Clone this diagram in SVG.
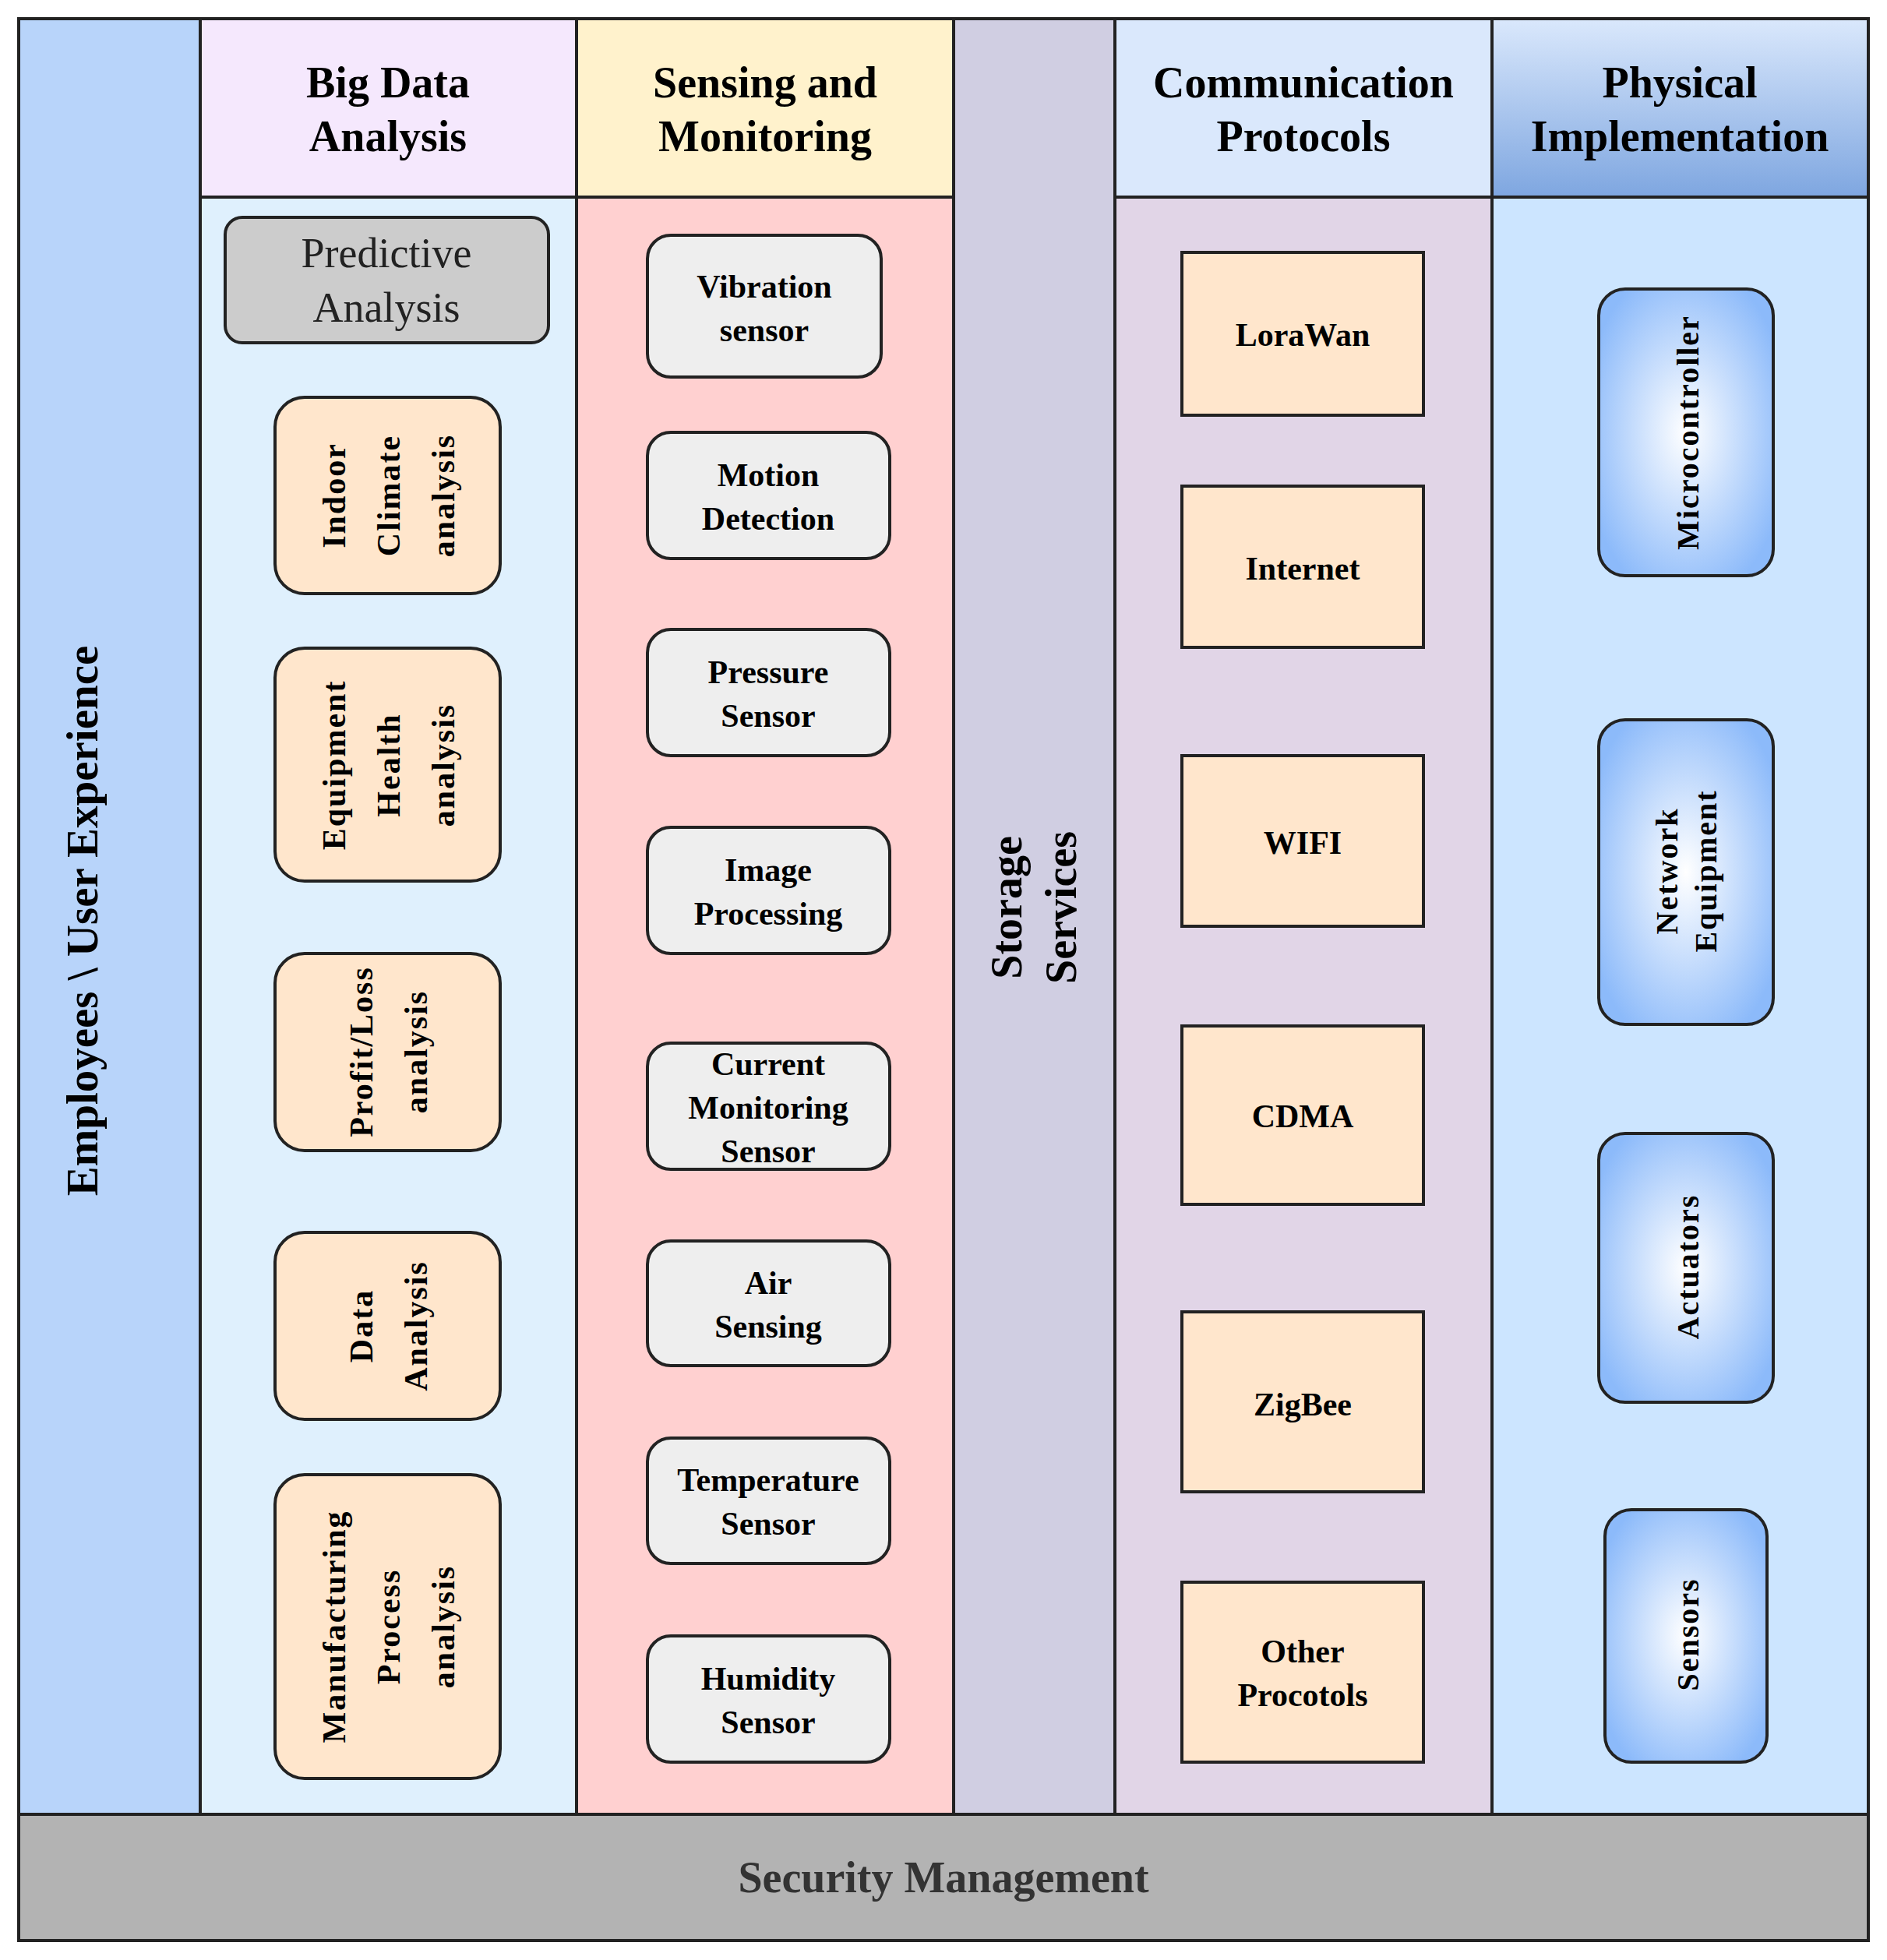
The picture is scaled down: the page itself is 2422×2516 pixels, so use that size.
<svg xmlns="http://www.w3.org/2000/svg" width="2422" height="2516" viewBox="0 0 2422 2516">
<defs>
<linearGradient id="hdr" x1="0" y1="0" x2="0" y2="1"><stop offset="0" stop-color="#dae8fc"/><stop offset="1" stop-color="#7ea6e0"/></linearGradient>
<radialGradient id="phy" cx="0.5" cy="0.5" r="0.6"><stop offset="0" stop-color="#ffffff"/><stop offset="1" stop-color="#8cbafa"/></radialGradient>
<style>
text{font-family:"Liberation Serif","Times New Roman",serif;fill:#000;text-anchor:middle;dominant-baseline:central}
.b{font-weight:bold}
.h{font-size:56px;font-weight:bold}
.n{font-size:42px;font-weight:bold}
.v{font-size:42px;font-weight:bold;letter-spacing:2px}
.ln{stroke:#222;stroke-width:4}
.nd{stroke:#222;stroke-width:4}
</style>
</defs>
<rect width="2422" height="2516" fill="#fff"/>
<g id="columns">
<rect x="24" y="24" width="233" height="2305" fill="#b8d4fa" class="ln"/>
<rect x="257" y="24" width="483" height="229" fill="#f5e8fd" class="ln"/>
<rect x="257" y="253" width="483" height="2076" fill="#dff0fd" class="ln"/>
<rect x="740" y="24" width="484" height="229" fill="#fff2cc" class="ln"/>
<rect x="740" y="253" width="484" height="2076" fill="#ffd0d0" class="ln"/>
<rect x="1224" y="24" width="207" height="2305" fill="#d0cee2" class="ln"/>
<rect x="1431" y="24" width="484" height="229" fill="#dae8fc" class="ln"/>
<rect x="1431" y="253" width="484" height="2076" fill="#e1d5e7" class="ln"/>
<rect x="1915" y="24" width="483" height="229" fill="url(#hdr)" class="ln"/>
<rect x="1915" y="253" width="483" height="2076" fill="#cce5ff" class="ln"/>
<rect x="24" y="2329" width="2374" height="162" fill="#b3b3b3" class="ln"/>
<text class="h" transform="translate(105,1182) rotate(-90)" style="font-size:57px">Employees \ User Experience</text>
<text class="h"><tspan x="498" y="106">Big Data</tspan><tspan x="498" y="175">Analysis</tspan></text>
<text class="h"><tspan x="982" y="106">Sensing and</tspan><tspan x="982" y="175">Monitoring</tspan></text>
<text class="h" transform="translate(1327,1165) rotate(-90)"><tspan x="0" y="-35">Storage</tspan><tspan x="0" y="35">Services</tspan></text>
<text class="h"><tspan x="1673" y="106">Communication</tspan><tspan x="1673" y="175">Protocols</tspan></text>
<text class="h"><tspan x="2156" y="106">Physical</tspan><tspan x="2156" y="175">Implementation</tspan></text>
<text class="h" x="1211" y="2410" style="fill:#333">Security Management</text>
</g>
<g id="bigdata">
<g id="predictive"><rect x="289" y="279" width="415" height="161" rx="22" fill="#cccccc" class="nd"/><text style="font-size:54px;fill:#222"><tspan x="496" y="325">Predictive</tspan><tspan x="496" y="395">Analysis</tspan></text></g>
<g id="indoor"><rect x="353" y="510" width="289" height="252" rx="38" fill="#ffe6cc" class="nd"/><text class="v" transform="translate(497,636) rotate(-90)"><tspan x="0" y="-68">Indoor</tspan><tspan x="0" y="2">Climate</tspan><tspan x="0" y="72">analysis</tspan></text></g>
<g id="equipment"><rect x="353" y="832" width="289" height="299" rx="38" fill="#ffe6cc" class="nd"/><text class="v" transform="translate(497,982) rotate(-90)"><tspan x="0" y="-68">Equipment</tspan><tspan x="0" y="2">Health</tspan><tspan x="0" y="72">analysis</tspan></text></g>
<g id="profit"><rect x="353" y="1224" width="289" height="253" rx="38" fill="#ffe6cc" class="nd"/><text class="v" transform="translate(497,1350) rotate(-90)"><tspan x="0" y="-33">Profit/Loss</tspan><tspan x="0" y="37">analysis</tspan></text></g>
<g id="data"><rect x="353" y="1582" width="289" height="240" rx="38" fill="#ffe6cc" class="nd"/><text class="v" transform="translate(497,1702) rotate(-90)"><tspan x="0" y="-33">Data</tspan><tspan x="0" y="37">Analysis</tspan></text></g>
<g id="manufacturing"><rect x="353" y="1893" width="289" height="390" rx="38" fill="#ffe6cc" class="nd"/><text class="v" transform="translate(497,2088) rotate(-90)"><tspan x="0" y="-68">Manufacturing</tspan><tspan x="0" y="2">Process</tspan><tspan x="0" y="72">analysis</tspan></text></g>
</g>
<g id="sensing">
<g id="vibration"><rect x="831" y="302" width="300" height="182" rx="30" fill="#eeeeee" class="nd"/><text class="n"><tspan x="981" y="368">Vibration</tspan><tspan x="981" y="424">sensor</tspan></text></g>
<g id="motion"><rect x="831" y="555" width="311" height="162" rx="30" fill="#eeeeee" class="nd"/><text class="n"><tspan x="986" y="610">Motion</tspan><tspan x="986" y="666">Detection</tspan></text></g>
<g id="pressure"><rect x="831" y="808" width="311" height="162" rx="30" fill="#eeeeee" class="nd"/><text class="n"><tspan x="986" y="863">Pressure</tspan><tspan x="986" y="919">Sensor</tspan></text></g>
<g id="image"><rect x="831" y="1062" width="311" height="162" rx="30" fill="#eeeeee" class="nd"/><text class="n"><tspan x="986" y="1117">Image</tspan><tspan x="986" y="1173">Processing</tspan></text></g>
<g id="current"><rect x="831" y="1339" width="311" height="162" rx="30" fill="#eeeeee" class="nd"/><text class="n"><tspan x="986" y="1366">Current</tspan><tspan x="986" y="1422">Monitoring</tspan><tspan x="986" y="1478">Sensor</tspan></text></g>
<g id="air"><rect x="831" y="1593" width="311" height="160" rx="30" fill="#eeeeee" class="nd"/><text class="n"><tspan x="986" y="1647">Air</tspan><tspan x="986" y="1703">Sensing</tspan></text></g>
<g id="temperature"><rect x="831" y="1846" width="311" height="161" rx="30" fill="#eeeeee" class="nd"/><text class="n"><tspan x="986" y="1900">Temperature</tspan><tspan x="986" y="1956">Sensor</tspan></text></g>
<g id="humidity"><rect x="831" y="2100" width="311" height="162" rx="30" fill="#eeeeee" class="nd"/><text class="n"><tspan x="986" y="2155">Humidity</tspan><tspan x="986" y="2211">Sensor</tspan></text></g>
</g>
<g id="comm">
<g id="lorawan"><rect x="1517" y="324" width="310" height="209" fill="#ffe6cc" class="nd"/><text class="n" x="1672" y="430">LoraWan</text></g>
<g id="internet"><rect x="1517" y="624" width="310" height="207" fill="#ffe6cc" class="nd"/><text class="n" x="1672" y="730">Internet</text></g>
<g id="wifi"><rect x="1517" y="970" width="310" height="219" fill="#ffe6cc" class="nd"/><text class="n" x="1672" y="1082">WIFI</text></g>
<g id="cdma"><rect x="1517" y="1317" width="310" height="229" fill="#ffe6cc" class="nd"/><text class="n" x="1672" y="1433">CDMA</text></g>
<g id="zigbee"><rect x="1517" y="1684" width="310" height="231" fill="#ffe6cc" class="nd"/><text class="n" x="1672" y="1803">ZigBee</text></g>
<g id="other"><rect x="1517" y="2031" width="310" height="231" fill="#ffe6cc" class="nd"/><text class="n"><tspan x="1672" y="2120">Other</tspan><tspan x="1672" y="2176">Procotols</tspan></text></g>
</g>
<g id="physical">
<g id="microcontroller"><rect x="2052" y="371" width="224" height="368" rx="34" fill="url(#phy)" class="nd" stroke-width="6"/><text class="v" style="font-size:40px" transform="translate(2166,555) rotate(-90)">Microcontroller</text></g>
<g id="network"><rect x="2052" y="924" width="224" height="391" rx="34" fill="url(#phy)" class="nd" stroke-width="6"/><text class="v" style="font-size:40px" transform="translate(2164,1118) rotate(-90)"><tspan x="0" y="-25">Network</tspan><tspan x="0" y="25">Equipment</tspan></text></g>
<g id="actuators"><rect x="2052" y="1455" width="224" height="345" rx="34" fill="url(#phy)" class="nd" stroke-width="6"/><text class="v" style="font-size:40px" transform="translate(2166,1626) rotate(-90)">Actuators</text></g>
<g id="sensors"><rect x="2060" y="1938" width="208" height="324" rx="34" fill="url(#phy)" class="nd" stroke-width="6"/><text class="v" style="font-size:40px" transform="translate(2166,2098) rotate(-90)">Sensors</text></g>
</g>
<g id="connectors"/>
</svg>
